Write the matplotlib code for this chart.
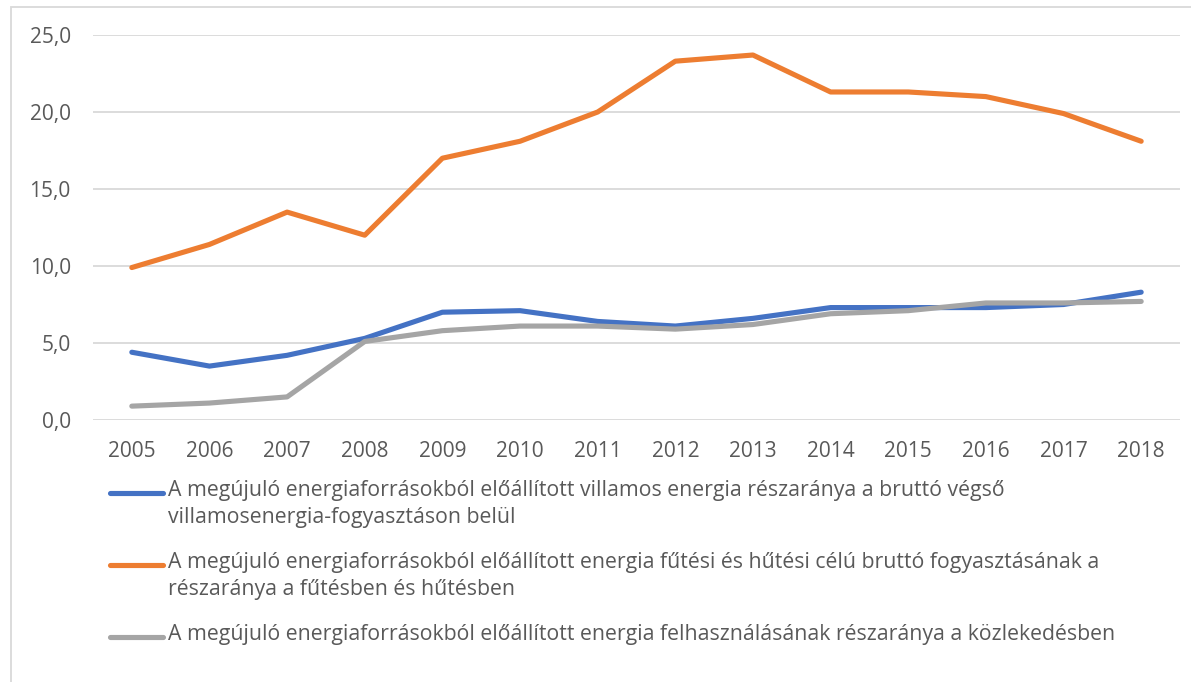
import matplotlib.pyplot as plt
from matplotlib.ticker import FuncFormatter, MultipleLocator
from matplotlib.patches import Rectangle
from matplotlib.lines import Line2D

plt.rcParams['font.family'] = ['Open Sans', 'DejaVu Sans']

years = [str(y) for y in range(2005, 2019)]

# villamos energia
villamos = [4.4, 3.5, 4.2, 5.3, 7.0, 7.1, 6.4, 6.1, 6.6, 7.3, 7.3, 7.3, 7.5, 8.3]
# futes es hutes
futes = [9.9, 11.4, 13.5, 12.0, 17.0, 18.1, 20.0, 23.3, 23.7, 21.3, 21.3, 21.0, 19.9, 18.1]
# kozlekedes
kozlekedes = [0.9, 1.1, 1.5, 5.1, 5.8, 6.1, 6.1, 5.9, 6.2, 6.9, 7.1, 7.6, 7.6, 7.7]

labels = [
    'A megújuló energiaforrásokból előállított villamos energia részaránya a bruttó végső\nvillamosenergia-fogyasztáson belül',
    'A megújuló energiaforrásokból előállított energia fűtési és hűtési célú bruttó fogyasztásának a\nrészaránya a fűtésben és hűtésben',
    'A megújuló energiaforrásokból előállított energia felhasználásának részaránya a közlekedésben',
]
colors = ['#4472C4', '#ED7D31', '#A5A5A5']
txt = '#595959'

W, H = 1191, 682
fig = plt.figure(figsize=(W / 100, H / 100), dpi=100)
ax = fig.add_axes([93 / W, 1 - 420 / H, (1180 - 93) / W, (420 - 35) / H])

x = range(len(years))
for vals, c, lab in zip([villamos, futes, kozlekedes], colors, labels):
    ax.plot(x, vals, color=c, lw=3.7, solid_capstyle='round', solid_joinstyle='round', label=lab)

ax.set_xlim(-0.5, len(years) - 0.5)
ax.set_ylim(0, 25)
ax.yaxis.set_major_locator(MultipleLocator(5))
ax.yaxis.set_major_formatter(FuncFormatter(lambda v, p: f'{v:.1f}'.replace('.', ',')))
ax.set_xticks(list(x))
ax.set_xticklabels(years)
ax.grid(axis='y', color='#D9D9D9', lw=1.3)
ax.set_axisbelow(True)
for s in ax.spines.values():
    s.set_visible(False)
ax.tick_params(length=0, labelsize=15, colors=txt)
ax.tick_params(axis='x', pad=15)
ax.tick_params(axis='y', pad=16)

# legend below the plot, handle level with the first text line
leg_y = [493, 565, 637]
for yy, c, lab in zip(leg_y, colors, labels):
    fy = 1 - yy / H
    fig.add_artist(Line2D([110 / W, 163 / W], [fy, fy], transform=fig.transFigure,
                          color=c, lw=3.7, solid_capstyle='round'))
    fig.text(168 / W, 1 - (yy - 13) / H, lab, fontsize=15.3, color=txt,
             va='top', ha='left', linespacing=1.38)

fig.patches.append(Rectangle((10.5 / W, -0.1), 1.2, 1 - 6.5 / H + 0.1, transform=fig.transFigure,
                             fill=False, edgecolor='#D9D9D9', lw=1.3))

fig.savefig('out.png', dpi=100)
